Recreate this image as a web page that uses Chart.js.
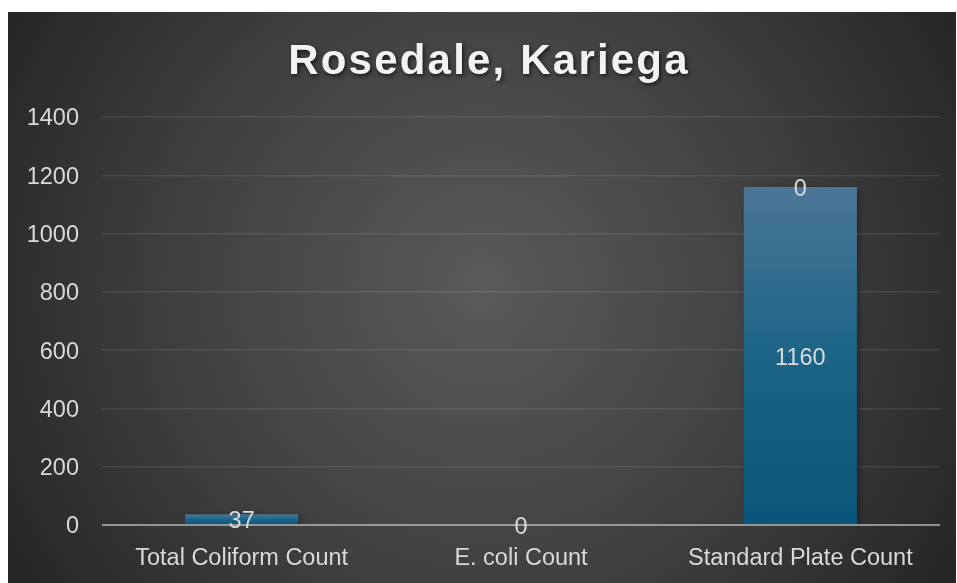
<!DOCTYPE html>
<html>
<head>
<meta charset="utf-8">
<title>Rosedale, Kariega</title>
<script src="https://cdn.jsdelivr.net/npm/chart.js@4.4.1/dist/chart.umd.min.js"></script>
<style>
  html, body { margin: 0; padding: 0; background: #ffffff; }
  #wrap { position: absolute; left: 8px; top: 12px; width: 948px; height: 571px; }
</style>
</head>
<body>
<div id="wrap"><canvas id="chart"></canvas></div>
<script>
// Water-quality counts for the Rosedale, Kariega sample
const chartTitle = 'Rosedale, Kariega';
const categories = ['Total Coliform Count', 'E. coli Count', 'Standard Plate Count'];
const countValues = [37, 0, 1160];
// second stacked series, only reported for the plate count
const extraValues = [null, null, 0];
const yMin = 0;
const yMax = 1400;
const yStep = 200;

const FONT = '"Liberation Sans", Arial, sans-serif';
const TEXT = '#d9d9d9';
const BAR_MID = '#1b6487';

function barFill(c) {
  const chart = c.chart;
  const ys = chart.scales && chart.scales.y;
  if (!ys || c.type !== 'data' || c.raw == null) return BAR_MID;
  const top = ys.getPixelForValue(c.raw);
  const base = ys.getPixelForValue(0);
  if (!isFinite(top) || !isFinite(base) || Math.abs(base - top) < 0.5) return BAR_MID;
  const g = chart.ctx.createLinearGradient(0, top, 0, base);
  g.addColorStop(0, '#4b7696');
  g.addColorStop(0.5, '#1b6487');
  g.addColorStop(1, '#0a557b');
  return g;
}

const decor = {
  id: 'decor',
  beforeDraw(chart) {
    const { ctx, width, height } = chart;
    ctx.save();
    const cx = width * 0.5, cy = height * 0.48;
    const g = ctx.createRadialGradient(cx, cy, 0, cx, cy, Math.hypot(cx, cy));
    g.addColorStop(0, '#5a5a5a');
    g.addColorStop(0.55, '#404040');
    g.addColorStop(1, '#262626');
    ctx.fillStyle = g;
    ctx.fillRect(0, 0, width, height);
    ctx.restore();
  },
  beforeDatasetsDraw(chart) {
    const ctx = chart.ctx;
    ctx.save();
    ctx.shadowColor = 'rgba(0,0,0,0.4)';
    ctx.shadowBlur = 7;
    ctx.shadowOffsetX = 2;
    ctx.shadowOffsetY = 2;
  },
  afterDatasetsDraw(chart) {
    const ctx = chart.ctx;
    ctx.restore();
    const area = chart.chartArea;
    const y0 = chart.scales.y.getPixelForValue(0);
    // category axis line, over the bars
    ctx.save();
    ctx.strokeStyle = 'rgba(210,210,210,0.62)';
    ctx.lineWidth = 2;
    ctx.beginPath();
    ctx.moveTo(area.left, y0);
    ctx.lineTo(area.right, y0);
    ctx.stroke();
    ctx.restore();
    // value labels at the middle of each bar segment
    ctx.save();
    ctx.font = '23.5px ' + FONT;
    ctx.fillStyle = TEXT;
    ctx.textAlign = 'center';
    ctx.textBaseline = 'middle';
    chart.data.datasets.forEach((ds, di) => {
      const meta = chart.getDatasetMeta(di);
      meta.data.forEach((el, i) => {
        const v = ds.data[i];
        if (v == null) return;
        ctx.fillText(String(v), el.x, (el.y + el.base) / 2 + 2.5);
      });
    });
    ctx.restore();
  },
  afterDraw(chart) {
    const ctx = chart.ctx;
    ctx.save();
    ctx.font = 'bold 42px ' + FONT;
    if ('letterSpacing' in ctx) ctx.letterSpacing = '2.2px';
    ctx.textAlign = 'center';
    ctx.textBaseline = 'alphabetic';
    ctx.shadowColor = 'rgba(0,0,0,0.65)';
    ctx.shadowBlur = 4;
    ctx.shadowOffsetX = 1.5;
    ctx.shadowOffsetY = 2;
    ctx.fillStyle = '#f2f2f2';
    ctx.fillText(chartTitle, 481, 62);
    ctx.restore();
  }
};

new Chart(document.getElementById('chart'), {
  type: 'bar',
  data: {
    labels: categories,
    datasets: [
      { data: countValues, backgroundColor: barFill, borderWidth: 0 },
      { data: extraValues, backgroundColor: barFill, borderWidth: 0 }
    ]
  },
  options: {
    responsive: true,
    maintainAspectRatio: false,
    animation: false,
    layout: { padding: { top: 105, right: 16, left: 0, bottom: 0 } },
    datasets: { bar: { categoryPercentage: 1, barPercentage: 0.405 } },
    plugins: {
      legend: { display: false },
      title: { display: false },
      tooltip: { enabled: false }
    },
    scales: {
      x: {
        stacked: true,
        grid: { display: false },
        border: { display: false },
        ticks: { color: TEXT, font: { family: FONT, size: 23.5 }, padding: 11, maxRotation: 0 },
        afterFit(scale) { scale.height = 58; }
      },
      y: {
        stacked: true,
        min: yMin,
        max: yMax,
        border: { display: false },
        grid: {
          drawTicks: false,
          lineWidth: 1.5,
          color: (c) => (c.tick && c.tick.value === 0 ? 'rgba(0,0,0,0)' : 'rgba(255,255,255,0.09)')
        },
        ticks: {
          stepSize: yStep,
          color: TEXT,
          font: { family: FONT, size: 23.5 },
          padding: 23,
          labelOffset: 2,
          callback: (v) => String(v)
        },
        afterFit(scale) { scale.width = 94; }
      }
    }
  },
  plugins: [decor]
});
</script>
</body>
</html>
